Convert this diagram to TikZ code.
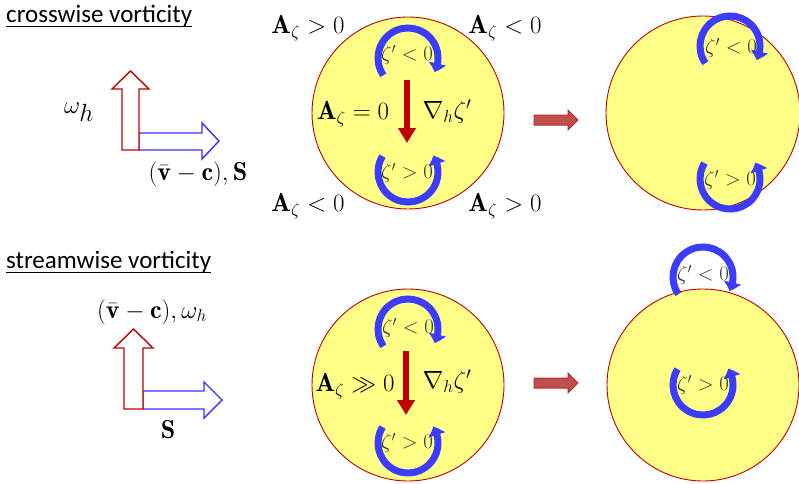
\documentclass[tikz,border=0pt]{standalone}
\usepackage{fontspec}
\setsansfont{Carlito}
\usetikzlibrary{arrows.meta,bending,calc}
\definecolor{cred}{HTML}{C00000}
\definecolor{cblue}{HTML}{3C3CFF}
\definecolor{oblue}{HTML}{3333FF}
\definecolor{cyell}{HTML}{FFFF88}
\definecolor{bfill}{HTML}{C0504D}
\definecolor{bdraw}{HTML}{B3312E}
\definecolor{zgray}{HTML}{333333}
\begin{document}
\begin{tikzpicture}[x=1pt,y=1pt,
  disc/.style={circle,draw=cred,line width=0.9pt,fill=cyell,minimum size=#1,inner sep=0pt},
  swirl/.style={draw=cblue,line width=7pt,-{Triangle[width=17pt,length=9pt,bend]}},
  grad/.style={draw=cred,line width=6pt,-{Triangle[width=17pt,length=15pt]}},
  alab/.style={font=\fontsize{26}{30}\selectfont,inner sep=0pt},
  glab/.style={font=\fontsize{27}{31}\selectfont,inner sep=0pt},
  zlab/.style={font=\fontsize{21}{25}\selectfont,text=zgray,inner sep=0pt},
  title/.style={anchor=base west,font=\sffamily\fontsize{25}{29}\selectfont,inner sep=0pt},
  ored/.style={draw=cred,line width=1.4pt,fill=white},
  oblu/.style={draw=oblue,line width=1.4pt,fill=white},
  blk/.style={draw=bdraw,line width=1pt,fill=bfill},
]
\useasboundingbox (0,0) rectangle (799,483);

% ---------- top row ----------
\node[title] (t1) at (6,460) {crosswise vorticity};
\draw[line width=1pt] ([yshift=-4pt]t1.base west) -- ([yshift=-4pt]t1.base east);

\draw[oblu] (139,350) -- (202,350) -- (202,360) -- (219,342) -- (202,324) -- (202,333) -- (139,333) -- cycle;
\draw[ored] (122,333) -- (122,394) -- (112,394) -- (130.5,412) -- (149,394) -- (139,394) -- (139,333) -- cycle;
\node[font=\fontsize{36}{40}\selectfont,inner sep=0pt] (wh1) at (79,371) {$\omega_h$};
\node[alab] (vs1) at (198,309) {$(\bar{\mathbf{v}}-\mathbf{c}),\mathbf{S}$};

\node[disc=192pt] (c1) at (408,370) {};
\node[alab] (a1) at (308,455) {$\mathbf{A}_\zeta>0$};
\node[alab] (a2) at (505,455) {$\mathbf{A}_\zeta<0$};
\node[alab] (a3) at (308,277) {$\mathbf{A}_\zeta<0$};
\node[alab] (a4) at (505,277) {$\mathbf{A}_\zeta>0$};
\node[alab] (a0) at (353,369) {$\mathbf{A}_\zeta=0$};
\node[glab] (g1) at (447,371) {$\nabla_h\zeta'$};
\coordinate (g1s) at (407,403);
\coordinate (g1e) at (407,340);
\draw[grad] (g1s) -- (g1e);
\coordinate (s1) at (408,425);
\draw[swirl] ($(s1)+(215:30)$) arc[start angle=215,end angle=-28,radius=30];
\node[zlab] (z1) at (407,428) {$\zeta'<0$};
\coordinate (s2) at (408,311);
\draw[swirl] ($(s2)+(148:30)$) arc[start angle=148,end angle=393,radius=30];
\node[zlab] (z2) at (407,310) {$\zeta'>0$};

\draw[blk] (534,368) -- (568,368) -- (568,373) -- (578,363) -- (568,353) -- (568,358) -- (534,358) -- cycle;

\node[disc=194pt] (c2) at (703,370) {};
\coordinate (s3) at (730,437);
\draw[swirl] ($(s3)+(215:30)$) arc[start angle=215,end angle=-28,radius=30];
\node[zlab] (z3) at (731,435) {$\zeta'<0$};
\coordinate (s4) at (730,304);
\draw[swirl] ($(s4)+(148:30)$) arc[start angle=148,end angle=393,radius=30];
\node[zlab] (z4) at (730,303) {$\zeta'>0$};

% ---------- bottom row ----------
\node[title] (t2) at (6,215) {streamwise vorticity};
\draw[line width=1pt] ([yshift=-4pt]t2.base west) -- ([yshift=-4pt]t2.base east);

\node[alab] (vs2) at (152,171) {$(\bar{\mathbf{v}}-\mathbf{c}),\omega_h$};
\draw[oblu] (143,92) -- (204,92) -- (204,101) -- (222,83) -- (204,65) -- (204,74) -- (143,74) -- cycle;
\draw[ored] (124,74) -- (124,135) -- (114,135) -- (133.5,154) -- (153,135) -- (143,135) -- (143,74) -- cycle;
\node[alab] (sS) at (168,53) {$\mathbf{S}$};

\node[disc=192pt] (c3) at (408,98) {};
\node[alab] (a5) at (355,97) {$\mathbf{A}_\zeta\gg0$};
\node[glab] (g2) at (447,101) {$\nabla_h\zeta'$};
\coordinate (g2s) at (406,132);
\coordinate (g2e) at (406,68);
\draw[grad] (g2s) -- (g2e);
\coordinate (s5) at (408,154);
\draw[swirl] ($(s5)+(215:30)$) arc[start angle=215,end angle=-28,radius=30];
\node[zlab] (z5) at (408,155) {$\zeta'<0$};
\coordinate (s6) at (408,40);
\draw[swirl] ($(s6)+(148:30)$) arc[start angle=148,end angle=393,radius=30];
\node[zlab] (z6) at (407,40) {$\zeta'>0$};

\draw[blk] (534,105) -- (568,105) -- (568,110) -- (578,100) -- (568,90) -- (568,95) -- (534,95) -- cycle;

\node[disc=192pt] (c4) at (703,98) {};
\coordinate (s7) at (703,206);
\draw[swirl] ($(s7)+(215:30)$) arc[start angle=215,end angle=-28,radius=30];
\node[zlab] (z7) at (703,208) {$\zeta'<0$};
\coordinate (s8) at (703,98);
\draw[swirl] ($(s8)+(148:30)$) arc[start angle=148,end angle=393,radius=30];
\node[zlab] (z8) at (703,98) {$\zeta'>0$};
\end{tikzpicture}
\end{document}
